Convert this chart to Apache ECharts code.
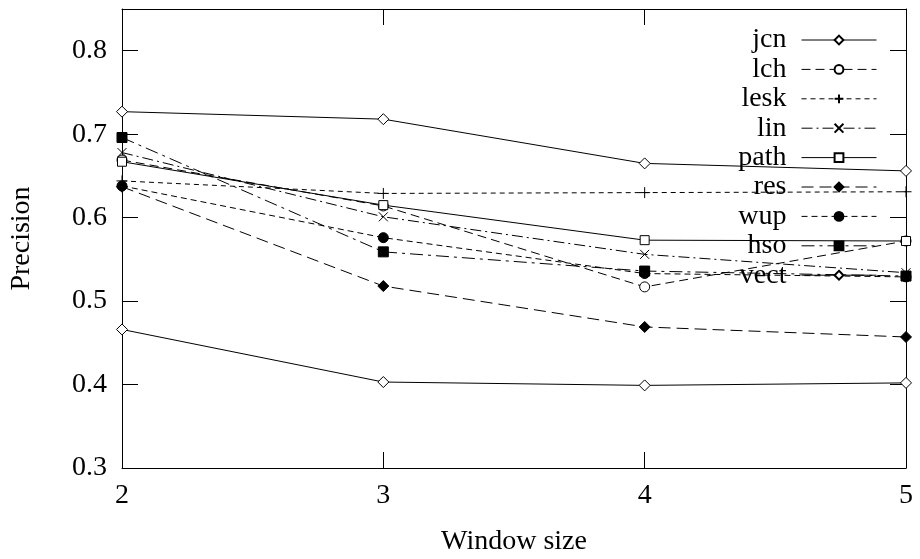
<!DOCTYPE html>
<html>
<head>
<meta charset="utf-8">
<script src="https://cdn.jsdelivr.net/npm/echarts@6/dist/echarts.min.js"></script>
<style>
  html, body { margin: 0; padding: 0; background: #fff; }
  #chart { width: 920px; height: 559px; }
</style>
</head>
<body>
<div id="chart"></div>
<script>
// window sizes on the x axis
const windowSizes = [2, 3, 4, 5]

// precision per measure
const jcn = [0.727, 0.718, 0.665, 0.656]
const lch = [0.669, 0.614, 0.517, 0.572]
const lesk = [0.644, 0.629, 0.630, 0.631]
const lin = [0.678, 0.601, 0.556, 0.534]
const path = [0.667, 0.615, 0.573, 0.572]
const res = [0.637, 0.518, 0.469, 0.457]
const wup = [0.638, 0.576, 0.533, 0.529]
const hso = [0.696, 0.559, 0.536, 0.530]
const vect = [0.466, 0.403, 0.399, 0.402]

const FONT = 'Liberation Serif'
const PLUS = 'path://M0,5L10,5M5,0L5,10'
const CROSS = 'path://M0,0L10,10M10,0L0,10'

function pairs(vals) {
  return windowSizes.map((x, i) => [x, vals[i]])
}

function makeSeries(name, vals, symbol, filled, dash, size) {
  return {
    name,
    type: 'line',
    data: pairs(vals),
    symbol,
    symbolSize: size || 9,
    showSymbol: true,
    animation: false,
    color: '#000',
    lineStyle: { color: '#000', width: 1, type: dash },
    itemStyle: {
      color: filled ? '#000' : '#fff',
      borderColor: '#000',
      borderWidth: 1,
    },
  }
}

const series = [
  makeSeries('jcn', jcn, 'diamond', false, 'solid', 11),
  makeSeries('lch', lch, 'circle', false, [9, 5], 10),
  makeSeries('lesk', lesk, PLUS, true, [5, 4], 11),
  makeSeries('lin', lin, CROSS, true, [11, 4, 2, 4], 9),
  makeSeries('path', path, 'rect', false, 'solid', 9),
  makeSeries('res', res, 'diamond', true, [12, 6], 11),
  makeSeries('wup', wup, 'circle', true, [6, 4], 10),
  makeSeries('hso', hso, 'rect', true, [13, 5, 3, 5], 10),
  makeSeries('vect', vect, 'diamond', false, 'solid', 11),
]

const tickStyle = { show: true, inside: true, length: 16, lineStyle: { color: '#000', width: 1 } }
const lineStyle = { show: true, onZero: false, lineStyle: { color: '#000', width: 1 } }

const chart = echarts.init(document.getElementById('chart'), null, { renderer: 'canvas' })
chart.setOption({
  backgroundColor: '#fff',
  animation: false,
  textStyle: { fontFamily: FONT, color: '#000' },
  grid: { left: 122, right: 14, top: 9, bottom: 91, containLabel: false, outerBoundsMode: 'none' },
  legend: {
    orient: 'vertical',
    align: 'right',
    right: 43,
    top: 26,
    padding: 0,
    itemWidth: 75,
    itemHeight: 11,
    itemGap: 1.4,
    selectedMode: false,
    lineStyle: { width: 1 },
    textStyle: { fontFamily: FONT, fontSize: 28, color: '#000', lineHeight: 28, padding: [0, 10, 0, 0] },
    data: series.map(s => s.name),
  },
  xAxis: [
    {
      type: 'value',
      position: 'bottom',
      min: 2,
      max: 5,
      interval: 1,
      name: 'Window size',
      nameLocation: 'middle',
      nameGap: 60,
      nameTextStyle: { fontFamily: FONT, fontSize: 28, color: '#000' },
      axisLine: lineStyle,
      axisTick: tickStyle,
      axisLabel: { fontFamily: FONT, fontSize: 28, color: '#000', margin: 14 },
      splitLine: { show: false },
    },
    {
      type: 'value',
      position: 'top',
      min: 2,
      max: 5,
      interval: 1,
      axisLine: lineStyle,
      axisTick: tickStyle,
      axisLabel: { show: false },
      splitLine: { show: false },
    },
  ],
  yAxis: [
    {
      type: 'value',
      position: 'left',
      min: 0.3,
      max: 0.85,
      interval: 0.1,
      name: 'Precision',
      nameLocation: 'middle',
      nameGap: 86,
      nameTextStyle: { fontFamily: FONT, fontSize: 28, color: '#000' },
      axisLine: lineStyle,
      axisTick: tickStyle,
      axisLabel: { fontFamily: FONT, fontSize: 28, color: '#000', margin: 15, showMaxLabel: false },
      splitLine: { show: false },
    },
    {
      type: 'value',
      position: 'right',
      min: 0.3,
      max: 0.85,
      interval: 0.1,
      axisLine: lineStyle,
      axisTick: tickStyle,
      axisLabel: { show: false },
      splitLine: { show: false },
    },
  ],
  series,
})
</script>
</body>
</html>
